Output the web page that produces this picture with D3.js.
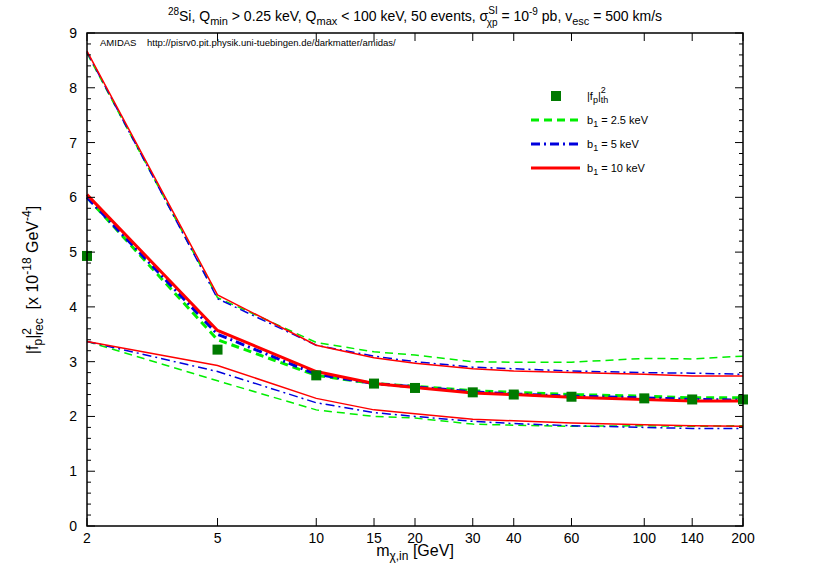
<!DOCTYPE html>
<html><head><meta charset="utf-8">
<script src="https://cdn.jsdelivr.net/npm/d3@7"></script>
<style>body{margin:0;background:#fff}text{font-family:"Liberation Sans",Arial,sans-serif;white-space:pre}</style>
</head><body><svg id="c" width="817" height="572"></svg>
<script>
const masses = [2, 5, 10, 15, 20, 30, 40, 60, 100, 140, 200];
const xTicks = [2, 5, 10, 15, 20, 30, 40, 60, 100, 140, 200];
const yTicks = [0, 1, 2, 3, 4, 5, 6, 7, 8, 9];
const fTheory = [4.93, 3.22, 2.75, 2.6, 2.52, 2.44, 2.4, 2.36, 2.33, 2.31, 2.31];
const g_up  = [8.63, 4.17, 3.35, 3.18, 3.12, 3.0, 2.99, 2.99, 3.06, 3.05, 3.1];
const g_med = [6.0, 3.4, 2.75, 2.6, 2.55, 2.47, 2.44, 2.4, 2.37, 2.34, 2.34];
const g_lo  = [3.37, 2.65, 2.12, 2.0, 1.97, 1.86, 1.84, 1.82, 1.83, 1.82, 1.83];
const b_up  = [8.65, 4.15, 3.3, 3.1, 3.0, 2.9, 2.87, 2.83, 2.8, 2.79, 2.77];
const b_med = [6.0, 3.5, 2.77, 2.6, 2.54, 2.45, 2.41, 2.37, 2.34, 2.31, 2.3];
const b_lo  = [3.37, 2.82, 2.25, 2.07, 2.0, 1.91, 1.87, 1.83, 1.8, 1.78, 1.78];
const r_up  = [8.67, 4.22, 3.3, 3.07, 2.97, 2.87, 2.83, 2.8, 2.77, 2.74, 2.74];
const r_med = [6.05, 3.57, 2.82, 2.6, 2.53, 2.43, 2.4, 2.35, 2.31, 2.28, 2.28];
const r_lo  = [3.37, 2.93, 2.33, 2.12, 2.05, 1.95, 1.92, 1.88, 1.85, 1.83, 1.82];

const svg = d3.select('#c');
const L = 87, R = 743, T = 33, B = 526;
const x = d3.scaleLog().domain([2, 200]).range([L, R]);
const y = d3.scaleLinear().domain([0, 9]).range([B, T]);

const styles = [
  { c: '#00ee00', dash: '8,5' },
  { c: '#0000dd', dash: '9,4,2,4' },
  { c: '#ff0000', dash: null }
];
const sets = [[g_up, g_med, g_lo], [b_up, b_med, b_lo], [r_up, r_med, r_lo]];
const line = d3.line().x((d, i) => x(masses[i])).y(d => y(d));
sets.forEach((s, k) => {
  s.forEach((vals, j) => {
    svg.append('path').datum(vals).attr('d', line)
      .attr('fill', 'none').attr('stroke', styles[k].c)
      .attr('stroke-width', j === 1 ? 3 : 1.5)
      .attr('stroke-dasharray', styles[k].dash);
  });
});

svg.selectAll('rect.pt').data(fTheory).join('rect')
  .attr('x', (d, i) => x(masses[i]) - 5).attr('y', d => y(d) - 5)
  .attr('width', 10).attr('height', 10).attr('fill', '#007a00');

// frame + ticks
svg.append('rect').attr('x', L).attr('y', T).attr('width', R - L).attr('height', B - T)
  .attr('fill', 'none').attr('stroke', '#000').attr('stroke-width', 1.5);
const ax = svg.append('g').attr('stroke', '#000');
xTicks.forEach(v => {
  ax.append('line').attr('x1', x(v)).attr('x2', x(v)).attr('y1', B).attr('y2', B - 8);
  ax.append('line').attr('x1', x(v)).attr('x2', x(v)).attr('y1', T).attr('y2', T + 8);
});
d3.range(0, 9.01, 0.2).forEach(v => {
  const major = Math.abs(v - Math.round(v)) < 1e-6;
  const len = major ? 8 : 4;
  ax.append('line').attr('x1', L).attr('x2', L + len).attr('y1', y(v)).attr('y2', y(v));
  ax.append('line').attr('x1', R).attr('x2', R - len).attr('y1', y(v)).attr('y2', y(v));
});
svg.append('g').selectAll('text').data(xTicks).join('text')
  .attr('x', d => x(d)).attr('y', B + 17).attr('text-anchor', 'middle')
  .attr('font-size', 14).text(d => d);
svg.append('g').selectAll('text').data(yTicks).join('text')
  .attr('x', L - 10).attr('y', d => y(d) + 5).attr('text-anchor', 'end')
  .attr('font-size', 14).text(d => d);

// title
const t = svg.append('text').attr('x', 415).attr('y', 21).attr('text-anchor', 'middle').attr('font-size', 14);
t.append('tspan').attr('dy', -6).attr('font-size', 10).text('28');
t.append('tspan').attr('dy', 6).text('Si, Q');
t.append('tspan').attr('dy', 4).attr('font-size', 11).text('min');
t.append('tspan').attr('dy', -4).text(' > 0.25 keV, Q');
t.append('tspan').attr('dy', 4).attr('font-size', 11).text('max');
t.append('tspan').attr('dy', -4).text(' < 100 keV, 50 events, σ');
t.append('tspan').attr('dy', -7).attr('font-size', 10).text('SI');
t.append('tspan').attr('dx', -11).attr('dy', 12).attr('font-size', 10).text('χp');
t.append('tspan').attr('dy', -5).text(' = 10');
t.append('tspan').attr('dy', -6).attr('font-size', 10).text('-9');
t.append('tspan').attr('dy', 6).text(' pb, v');
t.append('tspan').attr('dy', 4).attr('font-size', 11).text('esc');
t.append('tspan').attr('dy', -4).text(' = 500 km/s');

svg.append('text').attr('x', 100).attr('y', 46).attr('font-size', 9.5)
  .text('AMIDAS    http://pisrv0.pit.physik.uni-tuebingen.de/darkmatter/amidas/');

// x label
const xl = svg.append('text').attr('x', 415).attr('y', 556).attr('text-anchor', 'middle').attr('font-size', 16);
xl.append('tspan').text('m');
xl.append('tspan').attr('dy', 4).attr('font-size', 12).text('χ,in');
xl.append('tspan').attr('dy', -4).text(' [GeV]');

// y label
const yl = svg.append('text').attr('transform', 'translate(38,280) rotate(-90)').attr('text-anchor', 'middle').attr('font-size', 16);
yl.append('tspan').text('|f');
yl.append('tspan').attr('dy', 4).attr('font-size', 12).text('p');
yl.append('tspan').attr('dy', -4).text('|');
yl.append('tspan').attr('dy', -7).attr('font-size', 12).text('2');
yl.append('tspan').attr('dx', -7).attr('dy', 12).attr('font-size', 12).text('rec');
yl.append('tspan').attr('dy', -5).text('  [x 10');
yl.append('tspan').attr('dy', -7).attr('font-size', 12).text('-18');
yl.append('tspan').attr('dy', 7).text(' GeV');
yl.append('tspan').attr('dy', -7).attr('font-size', 12).text('-4');
yl.append('tspan').attr('dy', 7).text(']');

// legend
const lg = svg.append('g');
lg.append('rect').attr('x', 551).attr('y', 91).attr('width', 10).attr('height', 10).attr('fill', '#007a00');
const lt = lg.append('text').attr('x', 587).attr('y', 100).attr('font-size', 11);
lt.append('tspan').text('|f');
lt.append('tspan').attr('dy', 3).attr('font-size', 9).text('p');
lt.append('tspan').attr('dy', -3).text('|');
lt.append('tspan').attr('dy', -7).attr('font-size', 9).text('2');
lt.append('tspan').attr('dx', -5).attr('dy', 10).attr('font-size', 9).text('th');
const labs = ['2.5', '5', '10'];
labs.forEach((b, k) => {
  const yy = 120 + k * 24;
  lg.append('line').attr('x1', 531).attr('x2', 580).attr('y1', yy).attr('y2', yy)
    .attr('stroke', styles[k].c).attr('stroke-width', 3).attr('stroke-dasharray', styles[k].dash);
  const tx = lg.append('text').attr('x', 587).attr('y', yy + 4).attr('font-size', 11);
  tx.append('tspan').text('b');
  tx.append('tspan').attr('dy', 3).attr('font-size', 9).text('1');
  tx.append('tspan').attr('dy', -3).text(' = ' + b + ' keV');
});
</script></body></html>
